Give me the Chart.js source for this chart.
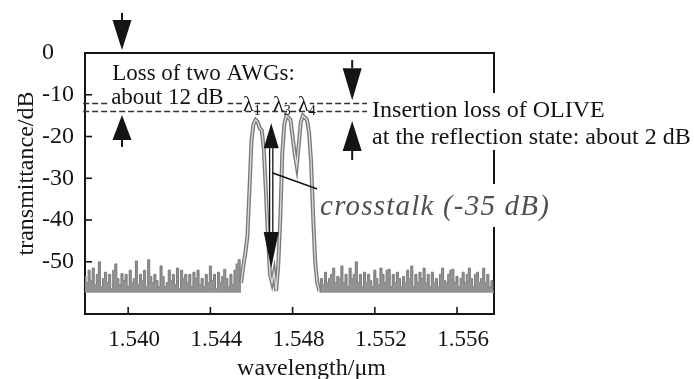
<!DOCTYPE html>
<html><head><meta charset="utf-8">
<script src="https://cdn.jsdelivr.net/npm/chart.js@4/dist/chart.umd.min.js"></script>
<style>html,body{margin:0;padding:0;background:#fff;}canvas{display:block;}</style>
</head><body>
<canvas id="c" width="694" height="379"></canvas>
<script>
// ---- data ----
const xTickValues = [1.540, 1.544, 1.548, 1.552, 1.556];
const xTickLabels = ['1.540', '1.544', '1.548', '1.552', '1.556'];
const yTickValues = [0, -10, -20, -30, -40, -50];
const yTickLabels = ['0', '-10', '-20', '-30', '-40', '-50'];
const noiseFloor = -57.4;

// wavelength spans (µm) of each sampled stretch, 0.0001 µm sampling
const leftNoiseSpan = [1.5379, 1.5455];
const leftNoise = [
  -53.5,-55,-52,-54.5,-51.5,-55.5,-53,-50,-56,-54,
  -52.5,-55,-53,-56.5,-52,-50.5,-54,-55.5,-52.8,-54.5,
  -53,-56,-52,-55,-54,-49.8,-55.5,-53,-54.5,-52,
  -56,-49.5,-53.5,-55,-53,-54.5,-56,-51,-53.5,-56,
  -55,-52,-54.5,-53,-55.5,-51.5,-56.5,-52,-54,-53,
  -55,-53,-56,-52.5,-54,-52,-55.5,-54,-56,-53,
  -55,-51,-54.5,-53,-56.5,-52.5,-55,-53.5,-51.8,-54,
  -56,-53,-55.5,-52,-50.5,-49.5,-55
];
const peakSpan = [1.5455, 1.5493];
const peakValues = [
  -55,-51,-48,-44,-33,-21,-17,-16,-16.5,-18,
  -18.5,-23,-33,-44,-53,-55,-52.5,-57,-51,-40,
  -24,-17,-15,-15.5,-16,-20,-24,-27,-22,-16.5,
  -15,-15.5,-16,-19,-26,-39,-50,-55,-57
];
const rightNoiseSpan = [1.5493, 1.5578];
const rightNoise = [
  -57,-54,-55.5,-52.5,-55,-54,-53,-51.5,-55,-53.5,
  -54,-51,-55,-53,-56,-51.5,-54,-53,-50,-55,
  -53,-56,-52.5,-55,-53,-54.5,-56,-52,-54,-55.5,
  -51.5,-53,-55,-52,-51.8,-56,-53,-55,-52.5,-54,
  -56,-53.5,-55,-52,-54,-51,-56,-53,-55,-52.5,
  -54,-51.5,-55,-53,-56,-52.5,-55,-54,-56,-53,
  -51.5,-54.5,-55,-53,-52,-51.8,-55,-53.5,-56,-54,
  -52.5,-55,-53,-51.5,-54,-56,-53,-52.5,-55,-54,
  -51.5,-55,-53,-56,-54.5,-57
];

// annotation levels / positions (data units)
const lossLevels = [-12, -14];
const dashSpan = [1.53781, 1.55162];
const lossArrows = [
  {x: 1.5397, tail: 9.6, tip: 0.7, head: 30, w: 19},
  {x: 1.5397, tail: -22.5, tip: -14.85, head: 25, w: 19},
  {x: 1.5509, tail: -1.7, tip: -11.3, head: 32, w: 19},
  {x: 1.5509, tail: -25.6, tip: -16.3, head: 30, w: 19}
];
const crosstalkArrow = {x: 1.54696, top: -16.8, bottom: -51.5, headTop: 25, headBottom: 36, w: 15};
const crosstalkLeader = [[1.5470, -28.7], [1.54934, -32.8]];
const lambdaLabels = [['1', 1.545593], ['3', 1.547052], ['4', 1.548268]];
const lambdaBaseline = -13.89;

function toPoints(span, vals) {
  const n = vals.length;
  return vals.map((v, i) => ({x: span[0] + (span[1] - span[0]) * i / (n - 1), y: v}));
}

const SERIF = '"Liberation Serif", "Times New Roman", serif';
const INK = '#141414';

function drawArrow(ctx, px, yTail, yTip, head, w) {
  const dir = yTip > yTail ? 1 : -1;
  const yBase = yTip - dir * head;
  ctx.beginPath(); ctx.moveTo(px, yTail); ctx.lineTo(px, yBase); ctx.stroke();
  ctx.beginPath(); ctx.moveTo(px - w / 2, yBase); ctx.lineTo(px + w / 2, yBase); ctx.lineTo(px, yTip); ctx.closePath(); ctx.fill();
}

function boxedText(ctx, text, px, py, font, color, pad, spacing) {
  ctx.font = font;
  if ('letterSpacing' in ctx) ctx.letterSpacing = spacing || '0px';
  const m = ctx.measureText(text);
  if (pad) {
    ctx.fillStyle = '#fff';
    ctx.fillRect(px - pad[3], py - m.actualBoundingBoxAscent - pad[0],
      m.width + pad[1] + pad[3], m.actualBoundingBoxAscent + m.actualBoundingBoxDescent + pad[0] + pad[2]);
  }
  ctx.fillStyle = color; ctx.textAlign = 'left'; ctx.textBaseline = 'alphabetic';
  ctx.fillText(text, px, py);
  if ('letterSpacing' in ctx) ctx.letterSpacing = '0px';
  return m.width;
}

const overlay = {
  id: 'overlay',
  beforeDatasetsDraw(chart) {
    const {ctx, chartArea: a, scales: {x, y}} = chart;
    ctx.save();
    ctx.strokeStyle = '#333'; ctx.lineWidth = 1.3; ctx.setLineDash([6, 3]);
    lossLevels.forEach(v => {
      const py = Math.round(y.getPixelForValue(v)) + 0.5;
      ctx.beginPath(); ctx.moveTo(x.getPixelForValue(dashSpan[0]), py); ctx.lineTo(x.getPixelForValue(dashSpan[1]), py); ctx.stroke();
    });
    ctx.setLineDash([]);
    ctx.strokeStyle = INK; ctx.lineWidth = 1.6;
    xTickValues.forEach(v => { const px = x.getPixelForValue(v); ctx.beginPath(); ctx.moveTo(px, a.bottom); ctx.lineTo(px, a.bottom - 7); ctx.stroke(); });
    yTickValues.forEach(v => { const py = y.getPixelForValue(v); ctx.beginPath(); ctx.moveTo(a.left, py); ctx.lineTo(a.left + 7, py); ctx.stroke(); });
    ctx.lineWidth = 2;
    ctx.beginPath(); ctx.moveTo(a.left - 1, a.top); ctx.lineTo(a.right, a.top); ctx.lineTo(a.right, a.bottom + 1); ctx.stroke();
    ctx.restore();
  },
  afterDraw(chart) {
    const {ctx, scales: {x, y}} = chart;
    const X = v => x.getPixelForValue(v), Y = v => y.getPixelForValue(v);
    ctx.save();
    ctx.strokeStyle = INK; ctx.fillStyle = INK; ctx.lineWidth = 2;
    lossArrows.forEach(a => drawArrow(ctx, X(a.x), Y(a.tail), Y(a.tip), a.head, a.w));
    // crosstalk double arrow
    const c = crosstalkArrow, cx = X(c.x), ct = Y(c.top), cb = Y(c.bottom);
    ctx.lineWidth = 1.3;
    [-1.6, 1.6].forEach(d => { ctx.beginPath(); ctx.moveTo(cx + d, ct + c.headTop); ctx.lineTo(cx + d, cb - c.headBottom); ctx.stroke(); });
    ctx.beginPath(); ctx.moveTo(cx - c.w / 2, ct + c.headTop); ctx.lineTo(cx + c.w / 2, ct + c.headTop); ctx.lineTo(cx, ct); ctx.closePath(); ctx.fill();
    ctx.beginPath(); ctx.moveTo(cx - c.w / 2, cb - c.headBottom); ctx.lineTo(cx + c.w / 2, cb - c.headBottom); ctx.lineTo(cx, cb); ctx.closePath(); ctx.fill();
    // leader line
    ctx.lineWidth = 1.6;
    ctx.beginPath(); ctx.moveTo(X(crosstalkLeader[0][0]), Y(crosstalkLeader[0][1])); ctx.lineTo(X(crosstalkLeader[1][0]), Y(crosstalkLeader[1][1])); ctx.stroke();

    // texts
    boxedText(ctx, 'Loss of two AWGs:', X(1.539222), Y(-6.47), '23px ' + SERIF, INK, [3, 3, 3, 3]);
    boxedText(ctx, 'about 12 dB', X(1.539173), Y(-12.21), '23px ' + SERIF, INK, [3, 4, 3, 2]);
    boxedText(ctx, 'Insertion loss of OLIVE', X(1.551868), Y(-15.33), '24px ' + SERIF, INK, [8, 4, 12, 3]);
    boxedText(ctx, 'at the reflection state: about 2 dB', X(1.551868), Y(-21.79), '24px ' + SERIF, INK, [6, 2, 6, 3]);
    boxedText(ctx, 'crosstalk (-35 dB)', X(1.549339), Y(-38.79), 'italic 29px ' + SERIF, '#505050', [10, 4, 5, 3], '1.2px');
    lambdaLabels.forEach(([sub, lx]) => {
      const px = X(lx), py = Y(lambdaBaseline);
      const w = boxedText(ctx, 'λ', px, py, '22px ' + SERIF, INK, [2, 1, -4, 1]);
      boxedText(ctx, sub, px + w, py + 4, '14px ' + SERIF, INK, null);
    });
    // axis titles
    ctx.fillStyle = INK; ctx.font = '24px ' + SERIF; ctx.textBaseline = 'alphabetic';
    ctx.textAlign = 'left';
    ctx.fillText('wavelength/μm', X(1.545301), Y(-77.1));
    ctx.save();
    ctx.translate(X(1.535379), Y(-28.86)); ctx.rotate(-Math.PI / 2);
    ctx.textAlign = 'center'; ctx.fillText('transmittance/dB', 0, 0);
    ctx.restore();
    ctx.restore();
  }
};

const peakPts = toPoints(peakSpan, peakValues);
new Chart(document.getElementById('c'), {
  type: 'line',
  data: {
    datasets: [
      {label: 'peaks-inner', data: peakPts, borderColor: '#dcdcdc', borderWidth: 1.3, pointRadius: 0, fill: false, tension: 0},
      {label: 'peaks', data: peakPts, borderColor: '#7a7a7a', borderWidth: 4, pointRadius: 0, fill: false, tension: 0},
      {label: 'noise-left', data: toPoints(leftNoiseSpan, leftNoise), borderColor: '#7a7a7a', backgroundColor: '#929292', borderWidth: 1, pointRadius: 0, stepped: 'middle', fill: {value: noiseFloor}},
      {label: 'noise-right', data: toPoints(rightNoiseSpan, rightNoise), borderColor: '#7a7a7a', backgroundColor: '#929292', borderWidth: 1, pointRadius: 0, stepped: 'middle', fill: {value: noiseFloor}}
    ]
  },
  options: {
    responsive: false, animation: false, devicePixelRatio: 1,
    layout: {padding: {left: 42, right: 200, top: 53, bottom: 0}},
    plugins: {legend: {display: false}, tooltip: {enabled: false}},
    scales: {
      x: {
        type: 'linear', position: 'bottom', min: 1.5379, max: 1.5578,
        grid: {display: false, drawTicks: false},
        border: {display: true, color: INK, width: 2},
        afterBuildTicks: s => { s.ticks = xTickValues.map(v => ({value: v})); },
        afterFit: s => { s.height = 65; },
        ticks: {autoSkip: false, maxRotation: 0, padding: 12, labelOffset: 6, color: INK, font: {family: SERIF, size: 23},
          callback: (v, i) => xTickLabels[i]}
      },
      y: {
        type: 'linear', position: 'left', min: -62.5, max: 0,
        grid: {display: false, drawTicks: false},
        border: {display: true, color: INK, width: 2},
        afterBuildTicks: s => { s.ticks = yTickValues.map(v => ({value: v})); },
        afterFit: s => { s.width = 43; },
        ticks: {autoSkip: false, crossAlign: 'far', padding: 0, color: INK, font: {family: SERIF, size: 24},
          callback: (v, i) => yTickLabels[i]}
      }
    }
  },
  plugins: [overlay]
});
</script>
</body></html>
